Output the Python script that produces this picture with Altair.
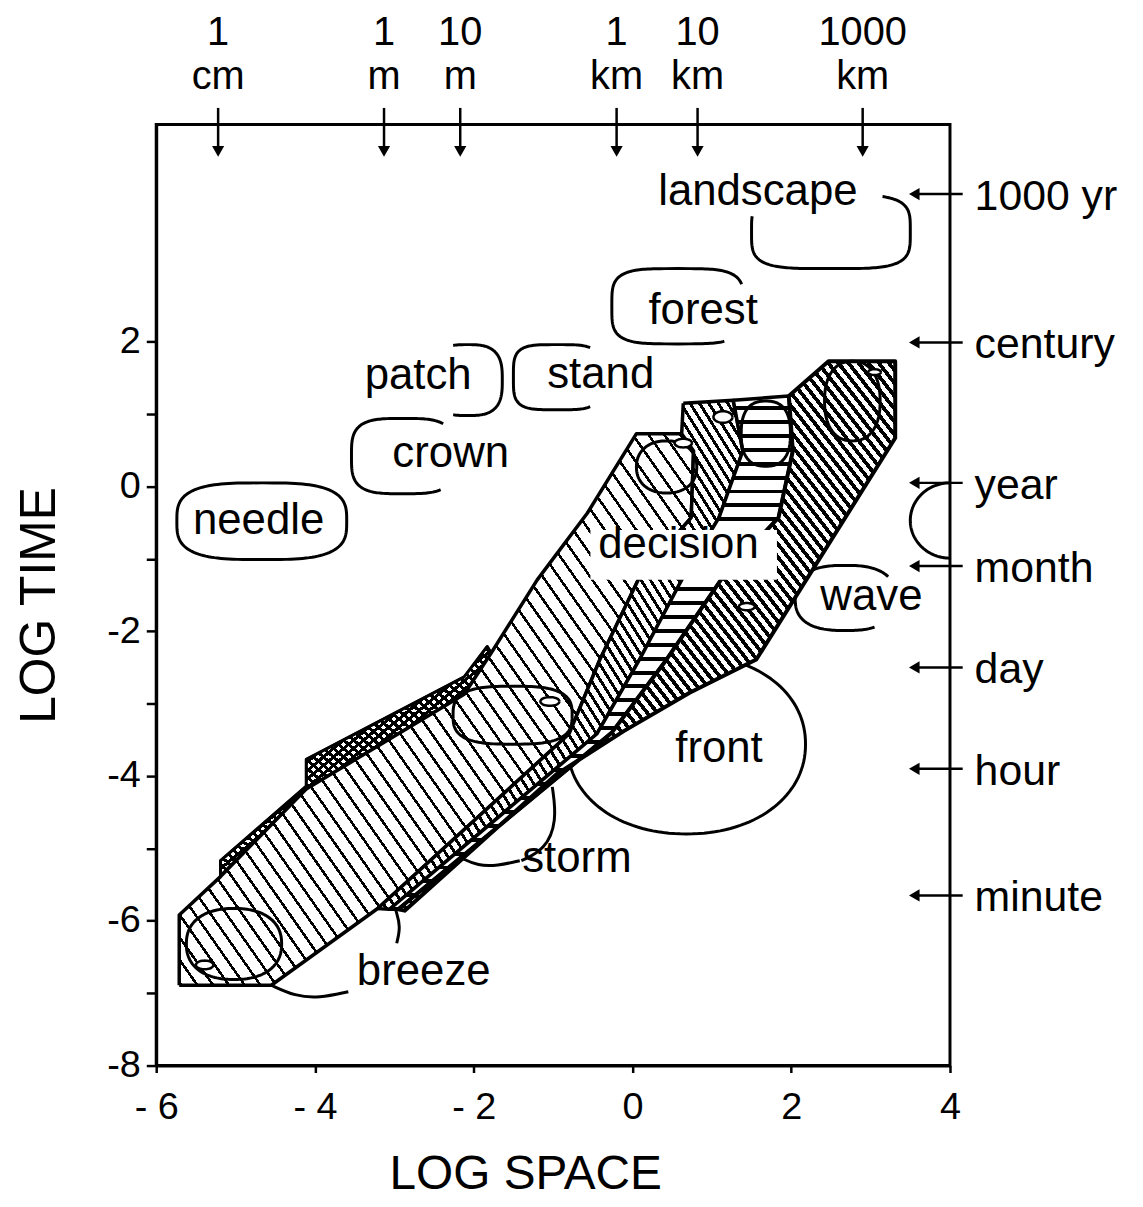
import math
import altair as alt
import pandas as pd

W, H = 798, 946
XDOM, YDOM = [-6, 4], [-8, 5]
FONT = "Liberation Sans"

# ---------------- data ----------------
x_ticks = [-6, -4, -2, 0, 2, 4]
y_ticks = list(range(-8, 3))

space_num = ["1", "1", "10", "1", "10", "1000"]
space_unit = ["cm", "m", "m", "km", "km", "km"]
space_x = [-5.22, -3.13, -2.17, -0.20, 0.82, 2.90]

time_names = ["1000 yr", "century", "year", "month", "day", "hour", "minute"]
time_y = [4.04, 1.99, 0.05, -1.10, -2.50, -3.90, -5.65]

stipple_x = [-5.19, -5.19, -4.11, -4.11, -2.12, -1.83, -1.78, -2.12, -4.11]
stipple_y = [-5.38, -5.17, -4.14, -3.77, -2.63, -2.21, -2.30, -2.87, -4.18]

band1_x = [-5.71, -5.71, -5.19, -4.11, -2.12, -1.78, -1.20, -0.57, 0.05, 0.62, 0.77, 0.74, 0.09, -0.41, -0.80, -3.21, -4.55]
band1_y = [-6.89, -5.92, -5.39, -4.18, -2.87, -2.30, -1.29, -0.37, 0.73, 0.73, 0.49, -0.43, -1.25, -2.39, -3.42, -5.83, -6.89]

band2_x = [0.64, 1.27, 1.39, 1.09, 0.64, 0.09, -0.45, -3.06, -3.21, -0.80, -0.41, 0.09, 0.74, 0.77, 0.62]
band2_y = [1.15, 1.19, 0.49, -0.43, -1.25, -2.39, -3.42, -5.84, -5.83, -3.42, -2.39, -1.25, -0.43, 0.49, 0.73]

band3_x = [1.27, 1.97, 2.02, 1.84, 1.14, 0.43, -0.26, -2.95, -3.06, -0.45, 0.09, 0.64, 1.09, 1.39]
band3_y = [1.19, 1.25, 0.49, -0.43, -1.25, -2.39, -3.40, -5.84, -5.84, -3.42, -2.39, -1.25, -0.43, 0.49]

band4_x = [1.97, 2.47, 3.31, 3.31, 1.56, 0.72, -0.11, -0.95, -2.87, -2.95, -0.26, 0.43, 1.14, 1.84, 2.02]
band4_y = [1.25, 1.73, 1.73, 0.67, -2.39, -2.85, -3.38, -3.97, -5.86, -5.84, -3.40, -2.39, -1.25, -0.43, 0.49]

# open / closed outlines (centre, half sizes, roundness, arc range in degrees)
outline_cx = [2.50, 0.57, -0.95, -2.08, -2.89, -4.67, 2.68, 0.68, 4.00]
outline_cy = [3.52, 2.49, 1.51, 1.47, 0.42, -0.48, -1.54, -3.56, -0.47]
outline_a = [1.00, 0.83, 0.55, 0.44, 0.65, 1.07, 0.63, 1.50, 0.50]
outline_b = [0.51, 0.52, 0.45, 0.49, 0.52, 0.53, 0.45, 1.24, 0.52]
outline_n = [4.0, 4.0, 4.0, 3.0, 3.5, 3.2, 2.6, 2.1, 2.0]
outline_t0 = [65, 20, 55, 105, 50, 0, 35, 0, 90]
outline_t1 = [-190, 300, 305, -105, 305, 360, 300, 360, 270]

bubble_cx = [-5.02, -1.51, 0.43, 1.68, 2.77]
bubble_cy = [-6.32, -3.16, 0.27, 0.73, 1.18]
bubble_a = [0.60, 0.75, 0.38, 0.31, 0.35]
bubble_b = [0.49, 0.40, 0.36, 0.45, 0.55]
bubble_n = [2.3, 3.0, 2.2, 2.5, 2.3]

dot_cx = [-5.39, -1.04, 0.64, 3.05, 1.44, 1.14]
dot_cy = [-6.61, -2.97, 0.60, 1.58, -1.66, 0.96]
dot_a = [0.11, 0.12, 0.11, 0.08, 0.10, 0.12]
dot_b = [0.06, 0.06, 0.06, 0.04, 0.05, 0.08]

leader_id = ["s1"] * 4 + ["s2"] * 4 + ["b1"] * 3 + ["b2"] * 4
leader_x = [-1.01, -0.95, -1.10, -1.40, -2.14, -1.95, -1.70, -1.42, -2.98, -2.92, -2.97, -4.55, -4.25, -3.95, -3.58]
leader_y = [-4.15, -4.62, -5.02, -5.17, -5.14, -5.24, -5.24, -5.17, -5.86, -6.08, -6.31, -6.89, -7.04, -7.07, -6.98]

decision_box = {"x": -0.53, "x2": 1.82, "y": -0.60, "y2": -1.29}

label_text = ["landscape", "forest", "stand", "patch", "crown", "needle", "decision", "wave", "front", "storm", "breeze"]
label_x = [1.58, 0.89, -0.40, -2.70, -2.29, -4.71, 0.58, 3.01, 1.09, -0.70, -2.63]
label_y = [3.89, 2.24, 1.36, 1.34, 0.27, -0.65, -0.99, -1.71, -3.81, -5.32, -6.89]

# ---------------- helpers ----------------
PXX, PXY = W / (XDOM[1] - XDOM[0]), H / (YDOM[1] - YDOM[0])

xaxis = alt.Axis(
    values=x_ticks, title="LOG SPACE", grid=False, labelFlush=False,
    labelExpr="datum.value < 0 ? '- ' + abs(datum.value) : '' + datum.value",
    labelFont=FONT, labelFontSize=38, labelColor="black", labelPadding=16,
    tickColor="black", tickSize=7, tickWidth=2.5, domainColor="black", domainWidth=3,
    titleFont=FONT, titleFontSize=48, titleFontWeight="normal", titleColor="black",
    titleX=371, titleY=124, titleBaseline="alphabetic", titleAlign="center",
)
yaxis = alt.Axis(
    values=y_ticks, title="LOG TIME", grid=False, labelFlush=False,
    labelExpr="datum.value % 2 == 0 ? (datum.value < 0 ? '-' + abs(datum.value) : '' + datum.value) : ''",
    labelFont=FONT, labelFontSize=38, labelColor="black", labelPadding=6,
    tickColor="black", tickSize=10, tickWidth=2.5, domainColor="black", domainWidth=3,
    titleFont=FONT, titleFontSize=50, titleFontWeight="normal", titleColor="black",
    titleX=-102, titleY=483, titleAngle=270, titleBaseline="alphabetic", titleAlign="center",
)

xs = alt.Scale(domain=XDOM, nice=False, zero=False)
ys = alt.Scale(domain=YDOM, nice=False, zero=False)


def X(f="x"):
    return alt.X(f"{f}:Q", scale=xs, axis=xaxis)


def Y(f="y"):
    return alt.Y(f"{f}:Q", scale=ys, axis=yaxis)


def poly_df(px, py):
    px = list(px) + [px[0]]
    py = list(py) + [py[0]]
    return pd.DataFrame({"x": px, "y": py, "i": list(range(len(px)))})


def hatch(px, py, angle, period, lw, line="black", gap="white"):
    w = (max(px) - min(px)) * PXX
    h = (max(py) - min(py)) * PXY
    a = math.radians(angle)
    ex, ey = math.cos(a) / w, math.sin(a) / h
    gx, gy = -ey, ex
    L = math.hypot(gx, gy)
    gx, gy = gx / L, gy / L
    s = abs(gx) + abs(gy)
    x1, y1 = 0.5 - gx * s / 2, 0.5 - gy * s / 2
    x2, y2 = 0.5 + gx * s / 2, 0.5 + gy * s / 2
    D = abs(gx * s * w * (-math.sin(a)) + gy * s * h * math.cos(a))
    N = D / period
    g = 1 - lw / period
    stops = []
    k = 0
    while k < N:
        o0 = min(k / N, 1.0)
        o1 = min((k + g) / N, 1.0)
        o2 = min((k + 1) / N, 1.0)
        stops += [{"offset": o0, "color": gap}, {"offset": o1, "color": gap},
                  {"offset": o1, "color": line}, {"offset": o2, "color": line}]
        k += 1
    return {"gradient": "linear", "x1": x1, "y1": y1, "x2": x2, "y2": y2, "stops": stops}


def polygon(px, py, fill, stroke="black", sw=3.0):
    return alt.Chart(poly_df(px, py)).mark_line(
        fill=fill, stroke=stroke, strokeWidth=sw, strokeJoin="round"
    ).encode(x=X(), y=Y(), order="i:Q")


def superellipse_df(cxs, cys, As, Bs, Ns, T0, T1, m=140):
    rows = []
    for j in range(len(cxs)):
        for k in range(m + 1):
            t = math.radians(T0[j] + (T1[j] - T0[j]) * k / m)
            c, s = math.cos(t), math.sin(t)
            x = cxs[j] + As[j] * math.copysign(abs(c) ** (2 / Ns[j]), c)
            y = cys[j] + Bs[j] * math.copysign(abs(s) ** (2 / Ns[j]), s)
            rows.append({"id": j, "k": k, "x": x, "y": y})
    return pd.DataFrame(rows)


# ---------------- layers ----------------
base = alt.Chart(pd.DataFrame({"x": [-6.0], "y": [-8.0]})).mark_point(opacity=0).encode(x=X(), y=Y())

outlines = alt.Chart(
    superellipse_df(outline_cx, outline_cy, outline_a, outline_b, outline_n, outline_t0, outline_t1)
).mark_line(stroke="black", strokeWidth=3).encode(x=X(), y=Y(), detail="id:N", order="k:Q")

stip1 = polygon(stipple_x, stipple_y, hatch(stipple_x, stipple_y, 40, 6.5, 3.0), sw=2.5)
stip2 = polygon(stipple_x, stipple_y, hatch(stipple_x, stipple_y, 140, 6.5, 3.0, gap="rgba(255,255,255,0)"),
                stroke="black", sw=3)

b1 = polygon(band1_x, band1_y, hatch(band1_x, band1_y, 55, 13, 2.6), sw=3.5)
b2 = polygon(band2_x, band2_y, hatch(band2_x, band2_y, 58, 8, 3.0), sw=3.5)
b3 = polygon(band3_x, band3_y, hatch(band3_x, band3_y, 0, 14, 4.0), sw=3.5)
b4 = polygon(band4_x, band4_y, hatch(band4_x, band4_y, 52, 8, 3.8), sw=4)

n0 = len(bubble_cx)
bubbles = alt.Chart(
    superellipse_df(bubble_cx, bubble_cy, bubble_a, bubble_b, bubble_n, [0] * n0, [360] * n0)
).mark_line(stroke="black", strokeWidth=3).encode(x=X(), y=Y(), detail="id:N", order="k:Q")

n1 = len(dot_cx)
dots = alt.Chart(
    superellipse_df(dot_cx, dot_cy, dot_a, dot_b, [2] * n1, [0] * n1, [360] * n1, m=40)
).mark_line(stroke="black", strokeWidth=2.5, fill="white").encode(x=X(), y=Y(), detail="id:N", order="k:Q")

dbox = alt.Chart(pd.DataFrame([decision_box])).mark_rect(fill="white", strokeWidth=0).encode(
    x=X("x"), x2="x2:Q", y=Y("y"), y2="y2:Q"
)

leaders = alt.Chart(pd.DataFrame({"id": leader_id, "x": leader_x, "y": leader_y,
                                  "k": list(range(len(leader_x)))})).mark_line(
    stroke="black", strokeWidth=3, interpolate="basis").encode(x=X(), y=Y(), detail="id:N", order="k:Q")

labels = alt.Chart(pd.DataFrame({"t": label_text, "x": label_x, "y": label_y})).mark_text(
    font=FONT, fontSize=44, align="center", baseline="alphabetic", color="black"
).encode(x=X(), y=Y(), text="t:N")

# top space scale arrows
top_df = pd.DataFrame({"x": space_x, "num": space_num, "unit": space_unit,
                       "y1": [5.23] * 6, "y2": [4.66] * 6, "ya": [4.63] * 6,
                       "yn": [6.26] * 6, "yu": [5.66] * 6})
top_rule = alt.Chart(top_df).mark_rule(strokeWidth=2.5, color="black").encode(x=X(), y=Y("y1"), y2="y2:Q")
top_head = alt.Chart(top_df).mark_point(shape="triangle-down", filled=True, size=150, color="black", opacity=1).encode(
    x=X(), y=Y("ya"))
top_num = alt.Chart(top_df).mark_text(font=FONT, fontSize=40, align="center", baseline="middle", color="black").encode(
    x=X(), y=Y("yn"), text="num:N")
top_unit = alt.Chart(top_df).mark_text(font=FONT, fontSize=40, align="center", baseline="middle", color="black").encode(
    x=X(), y=Y("yu"), text="unit:N")

# right time scale arrows
right_df = pd.DataFrame({"t": time_names, "y": time_y, "x1": [3.55] * 7, "x2": [4.16] * 7, "xt": [4.31] * 7})
r_rule = alt.Chart(right_df).mark_rule(strokeWidth=2.5, color="black").encode(x=X("x1"), x2="x2:Q", y=Y())
r_head = alt.Chart(right_df).mark_point(shape="triangle-left", filled=True, size=150, color="black", opacity=1).encode(
    x=X("x1"), y=Y())
r_text = alt.Chart(right_df).mark_text(font=FONT, fontSize=43, align="left", baseline="middle", dy=3, color="black").encode(
    x=X("xt"), y=Y(), text="t:N")

chart = alt.layer(
    base, outlines, stip1, stip2, b1, b2, b3, b4, bubbles, dots, dbox, leaders, labels,
    top_rule, top_head, top_num, top_unit, r_rule, r_head, r_text
).properties(
    width=W, height=H,
    autosize=alt.AutoSizeParams(type="none"),
    padding={"left": 149, "top": 114, "right": 186, "bottom": 139},
).configure_view(stroke="black", strokeWidth=3)

chart.save("out.html", embed_options={"renderer": "svg", "actions": False})
